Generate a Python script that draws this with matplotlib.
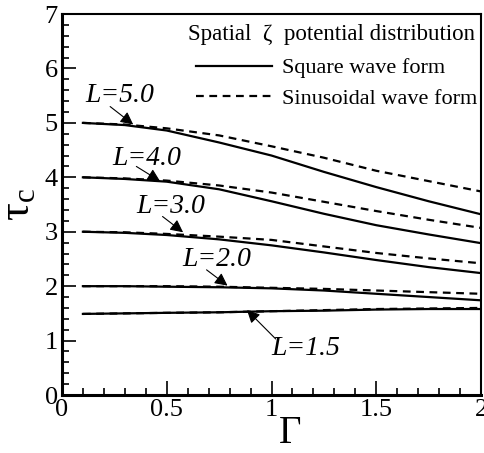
import matplotlib
matplotlib.use("Agg")
import matplotlib.pyplot as plt
from matplotlib.ticker import MultipleLocator

plt.rcParams['font.family'] = ['Liberation Serif', 'DejaVu Serif']
plt.rcParams['mathtext.fontset'] = 'stix'

gamma = [0.1, 0.3, 0.5, 0.75, 1.0, 1.25, 1.5, 1.75, 2.0]

# critical tau for square wave zeta potential
sq_50 = [5.00, 4.96, 4.86, 4.64, 4.40, 4.10, 3.82, 3.56, 3.32]
sq_40 = [4.00, 3.97, 3.92, 3.78, 3.56, 3.33, 3.12, 2.95, 2.79]
sq_30 = [3.00, 2.98, 2.94, 2.86, 2.75, 2.62, 2.48, 2.35, 2.24]
sq_20 = [2.00, 2.00, 1.99, 1.98, 1.96, 1.92, 1.86, 1.80, 1.74]
sq_15 = [1.49, 1.50, 1.51, 1.52, 1.54, 1.55, 1.57, 1.58, 1.58]

# critical tau for sinusoidal zeta potential
sn_50 = [5.00, 4.97, 4.90, 4.77, 4.57, 4.36, 4.12, 3.93, 3.74]
sn_40 = [4.00, 3.98, 3.94, 3.85, 3.72, 3.55, 3.38, 3.22, 3.07]
sn_30 = [3.00, 2.99, 2.96, 2.91, 2.85, 2.73, 2.61, 2.51, 2.42]
sn_20 = [2.00, 2.00, 2.00, 1.99, 1.97, 1.95, 1.92, 1.89, 1.86]
sn_15 = [1.49, 1.50, 1.51, 1.52, 1.54, 1.56, 1.58, 1.59, 1.60]

labels = ['L=5.0', 'L=4.0', 'L=3.0', 'L=2.0', 'L=1.5']
label_xy = [(0.277, 5.51), (0.406, 4.35), (0.52, 3.47), (0.74, 2.49), (1.165, 0.85)]
tail_xy = [(0.23, 5.30), (0.355, 4.20), (0.48, 3.28), (0.69, 2.30), (1.02, 1.03)]
head_xy = [(0.34, 4.97), (0.468, 3.93), (0.578, 2.99), (0.79, 2.01), (0.883, 1.56)]

fig = plt.figure(figsize=(4.84, 4.53), dpi=100)
ax = fig.add_axes([0.128, 0.128, 0.866, 0.841])

sq = [sq_50, sq_40, sq_30, sq_20, sq_15]
sn = [sn_50, sn_40, sn_30, sn_20, sn_15]
for i in range(len(sq)):
    ax.plot(gamma, sq[i], color='k', lw=1.6,
            label='Square wave form' if i == 0 else None)
    ax.plot(gamma, sn[i], color='k', lw=1.6, ls=(0, (3.5, 2.5)),
            label='Sinusoidal wave form' if i == 0 else None)

# L labels with pointer arrows
for i in range(len(labels)):
    ax.text(label_xy[i][0], label_xy[i][1], labels[i], fontsize=20,
            style='italic', ha='center', va='center')
    ax.annotate('', xy=head_xy[i], xytext=tail_xy[i],
                arrowprops=dict(arrowstyle='-|>', color='k', lw=0.8,
                                mutation_scale=19, shrinkA=0, shrinkB=0))

ax.set_xlim(0, 2)
ax.set_ylim(0, 7)
ax.xaxis.set_major_locator(MultipleLocator(0.5))
ax.xaxis.set_minor_locator(MultipleLocator(0.1))
ax.yaxis.set_major_locator(MultipleLocator(1))
ax.yaxis.set_minor_locator(MultipleLocator(0.2))
ax.set_xticks([0, 0.5, 1, 1.5, 2])
ax.set_xticklabels(['0', '0.5', '1', '1.5', '2'])
ax.tick_params(which='both', direction='in', top=False, right=False,
               labelsize=19, width=1.2, pad=3)
ax.tick_params(which='major', length=10)
ax.tick_params(which='minor', length=5)
ax.spines['left'].set_linewidth(2.2)
ax.spines['bottom'].set_linewidth(2.2)
ax.spines['top'].set_linewidth(1.5)
ax.spines['right'].set_linewidth(1.5)

ax.set_xlabel('Γ', fontsize=28)
ax.xaxis.set_label_coords(0.545, -0.052)
ax.set_ylabel(r'$\mathregular{τ_c}$', fontsize=32)
ax.yaxis.set_label_coords(-0.056, 0.5)

ax.text(0.986, 0.945, 'Spatial  ζ  potential distribution', fontsize=16.5,
        ha='right', va='center', transform=ax.transAxes)
leg = ax.legend(loc='center right', bbox_to_anchor=(0.99, 0.818),
                frameon=False, fontsize=16, handlelength=3.4,
                handletextpad=0.45, labelspacing=0.45,
                borderaxespad=0, borderpad=0)

fig.savefig('out.png', dpi=100)
